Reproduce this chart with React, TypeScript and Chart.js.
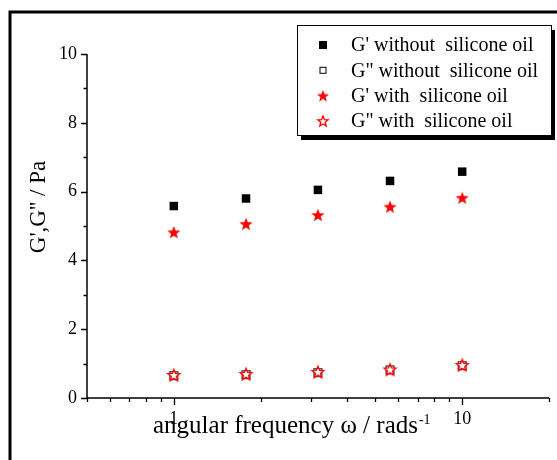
import React, { useEffect, useRef } from 'react';
import { Chart, registerables } from 'chart.js';

Chart.register(...registerables);

// ---- data ----
const frequency = [1, 1.78, 3.16, 5.62, 10];
const gPrimeWithout = [5.58, 5.8, 6.05, 6.31, 6.58];
const gDoublePrimeWithout = [0.65, 0.68, 0.74, 0.82, 0.94];
const gPrimeWith = [4.82, 5.06, 5.32, 5.56, 5.82];
const gDoublePrimeWith = [0.67, 0.7, 0.76, 0.83, 0.96];

const seriesLabels = [
  "G' without  silicone oil",
  'G" without  silicone oil',
  "G' with  silicone oil",
  'G" with  silicone oil',
];

const xMajorTicks = [1, 10];
const xMajorLabels = ['1', '10'];
const xMinorTicks = [0.5, 0.6, 0.7, 0.8, 0.9, 2, 3, 4, 5, 6, 7, 8, 9, 20];
const yMajorTicks = [0, 2, 4, 6, 8, 10];
const yMinorTicks = [1, 3, 5, 7, 9];

const xTitle = 'angular frequency \u03c9 / rads';
const xTitleSup = '-1';
const yTitle = "G',G'' / Pa";

const SERIF = "'Liberation Serif', 'Times New Roman', serif";

function makeStar(size: number, outerR: number, innerR: number, fill: string, stroke: string | null, lw: number) {
  const c = document.createElement('canvas');
  c.width = size;
  c.height = size;
  const ctx = c.getContext('2d')!;
  const cx = size / 2;
  const cy = size / 2 + outerR * 0.1;
  ctx.beginPath();
  for (let i = 0; i < 10; i++) {
    const r = i % 2 === 0 ? outerR : innerR;
    const a = -Math.PI / 2 + (i * Math.PI) / 5;
    const px = cx + r * Math.cos(a);
    const py = cy + r * Math.sin(a);
    if (i === 0) ctx.moveTo(px, py);
    else ctx.lineTo(px, py);
  }
  ctx.closePath();
  ctx.fillStyle = fill;
  ctx.fill();
  if (stroke) {
    ctx.strokeStyle = stroke;
    ctx.lineWidth = lw;
    ctx.lineJoin = 'miter';
    ctx.stroke();
  }
  return c;
}

export default function App() {
  const ref = useRef<HTMLCanvasElement | null>(null);

  useEffect(() => {
    if (!ref.current) return;
    const filledStar = makeStar(16, 7, 2.9, '#ff0000', null, 0);
    const openStar = makeStar(16, 6.2, 2.7, '#ffffff', '#ff0000', 1.4);

    const toPts = (ys: number[]) => frequency.map((x, i) => ({ x, y: ys[i] }));

    const datasets: any[] = [
      {
        label: seriesLabels[0],
        data: toPts(gPrimeWithout),
        pointStyle: 'rect',
        pointRadius: 6,
        backgroundColor: '#000',
        borderColor: '#000',
        borderWidth: 0,
        showLine: false,
        order: 2,
      },
      {
        label: seriesLabels[1],
        data: toPts(gDoublePrimeWithout),
        pointStyle: 'rect',
        pointRadius: 5.5,
        backgroundColor: '#fff',
        borderColor: '#555',
        borderWidth: 1.5,
        showLine: false,
        order: 4,
      },
      {
        label: seriesLabels[2],
        data: toPts(gPrimeWith),
        pointStyle: filledStar,
        pointRadius: 7,
        backgroundColor: '#f00',
        borderColor: '#f00',
        showLine: false,
        order: 1,
      },
      {
        label: seriesLabels[3],
        data: toPts(gDoublePrimeWith),
        pointStyle: openStar,
        pointRadius: 7,
        backgroundColor: '#fff',
        borderColor: '#f00',
        showLine: false,
        order: 0,
      },
    ];

    const legendMarkers = [
      { kind: 'rect', fill: '#000', stroke: null, size: 8 },
      { kind: 'rect', fill: '#fff', stroke: '#000', size: 7 },
      { kind: 'img', img: makeStar(16, 6.5, 2.7, '#ff0000', null, 0) },
      { kind: 'img', img: makeStar(16, 5.5, 2.4, '#ffffff', '#ff0000', 1.3) },
    ];

    const decor = {
      id: 'decor',
      afterDraw(chart: any) {
        const ctx: CanvasRenderingContext2D = chart.ctx;
        const xs = chart.scales.x;
        const ys = chart.scales.y;
        const { left, right, top, bottom } = chart.chartArea;
        ctx.save();

        // outer frame
        ctx.strokeStyle = '#000';
        ctx.lineWidth = 3;
        ctx.beginPath();
        ctx.moveTo(10, 470);
        ctx.lineTo(10, 12);
        ctx.lineTo(570, 12);
        ctx.stroke();

        // axes
        ctx.lineWidth = 1.5;
        ctx.beginPath();
        ctx.moveTo(left, top);
        ctx.lineTo(left, bottom);
        ctx.lineTo(right, bottom);
        ctx.stroke();

        ctx.lineWidth = 1.3;
        ctx.beginPath();
        yMajorTicks.forEach((v) => {
          const p = Math.round(ys.getPixelForValue(v)) + 0.5;
          ctx.moveTo(left - 6, p);
          ctx.lineTo(left, p);
        });
        yMinorTicks.forEach((v) => {
          const p = Math.round(ys.getPixelForValue(v)) + 0.5;
          ctx.moveTo(left - 3.5, p);
          ctx.lineTo(left, p);
        });
        xMajorTicks.forEach((v) => {
          const p = Math.round(xs.getPixelForValue(v)) + 0.5;
          ctx.moveTo(p, bottom);
          ctx.lineTo(p, bottom + 7);
        });
        xMinorTicks.forEach((v) => {
          const p = Math.round(xs.getPixelForValue(v)) + 0.5;
          ctx.moveTo(p, bottom);
          ctx.lineTo(p, bottom + 4);
        });
        ctx.stroke();

        // x title
        ctx.fillStyle = '#000';
        ctx.textBaseline = 'alphabetic';
        ctx.textAlign = 'left';
        ctx.font = `25px ${SERIF}`;
        ctx.fillText(xTitle, 153, 433);
        const tw = ctx.measureText(xTitle).width;
        ctx.font = `14px ${SERIF}`;
        ctx.fillText(xTitleSup, 153 + tw + 1, 424);

        // y title
        ctx.save();
        ctx.translate(45, 207);
        ctx.rotate(-Math.PI / 2);
        ctx.font = `23px ${SERIF}`;
        ctx.textAlign = 'center';
        ctx.textBaseline = 'alphabetic';
        ctx.fillText(yTitle, 0, 0);
        ctx.restore();

        // legend box
        const bx = 297, by = 25, bw = 254, bh = 110;
        ctx.fillStyle = '#000';
        ctx.fillRect(bx + 4, by + 5, bw, bh);
        ctx.fillStyle = '#fff';
        ctx.fillRect(bx, by, bw, bh);
        ctx.strokeStyle = '#000';
        ctx.lineWidth = 1;
        ctx.strokeRect(bx + 0.5, by + 0.5, bw, bh);

        ctx.font = `20px ${SERIF}`;
        ctx.textAlign = 'left';
        ctx.textBaseline = 'middle';
        chart.data.datasets.forEach((ds: any, i: number) => {
          const cy = 45 + i * 25.3;
          const mx = 323;
          const m: any = legendMarkers[i];
          if (m.kind === 'rect') {
            if (m.fill) {
              ctx.fillStyle = m.fill;
              ctx.fillRect(mx - m.size / 2, cy - m.size / 2, m.size, m.size);
            }
            if (m.stroke) {
              ctx.strokeStyle = m.stroke;
              ctx.lineWidth = 1;
              ctx.strokeRect(mx - m.size / 2 + 0.5, cy - m.size / 2 + 0.5, m.size - 1, m.size - 1);
            }
          } else {
            ctx.drawImage(m.img, mx - 8, cy - 8);
          }
          ctx.fillStyle = '#000';
          ctx.fillText(ds.label, 351, cy + 1);
        });

        ctx.restore();
      },
    };

    const chart = new Chart(ref.current, {
      type: 'scatter',
      data: { datasets },
      options: {
        animation: false,
        responsive: false,
        maintainAspectRatio: false,
        layout: { padding: { left: 0, top: 54, right: 8, bottom: 0 } },
        plugins: {
          legend: { display: false },
          tooltip: { enabled: false },
        },
        scales: {
          x: {
            type: 'logarithmic',
            min: 0.5,
            max: 20,
            grid: { display: false, drawTicks: false },
            border: { display: false },
            afterBuildTicks: (s: any) => {
              s.ticks = xMajorTicks.map((v) => ({ value: v }));
            },
            ticks: {
              autoSkip: false,
              maxRotation: 0,
              padding: 10,
              color: '#000',
              font: { family: SERIF, size: 18 },
              callback: (v: any) => {
                const i = xMajorTicks.indexOf(Number(v));
                return i >= 0 ? xMajorLabels[i] : '';
              },
            },
            afterFit: (s: any) => {
              s.height = 62;
            },
          },
          y: {
            min: 0,
            max: 10,
            grid: { display: false, drawTicks: false },
            border: { display: false },
            afterBuildTicks: (s: any) => {
              s.ticks = yMajorTicks.map((v) => ({ value: v }));
            },
            ticks: {
              padding: 10,
              color: '#000',
              font: { family: SERIF, size: 18 },
            },
            afterFit: (s: any) => {
              s.width = 87;
            },
          },
        },
      } as any,
      plugins: [decor],
    });

    return () => chart.destroy();
  }, []);

  return (
    <div style={{ position: 'fixed', left: 0, top: 0, width: 557, height: 460, background: '#fff' }}>
      <canvas ref={ref} width={557} height={460} style={{ display: 'block' }} />
    </div>
  );
}
